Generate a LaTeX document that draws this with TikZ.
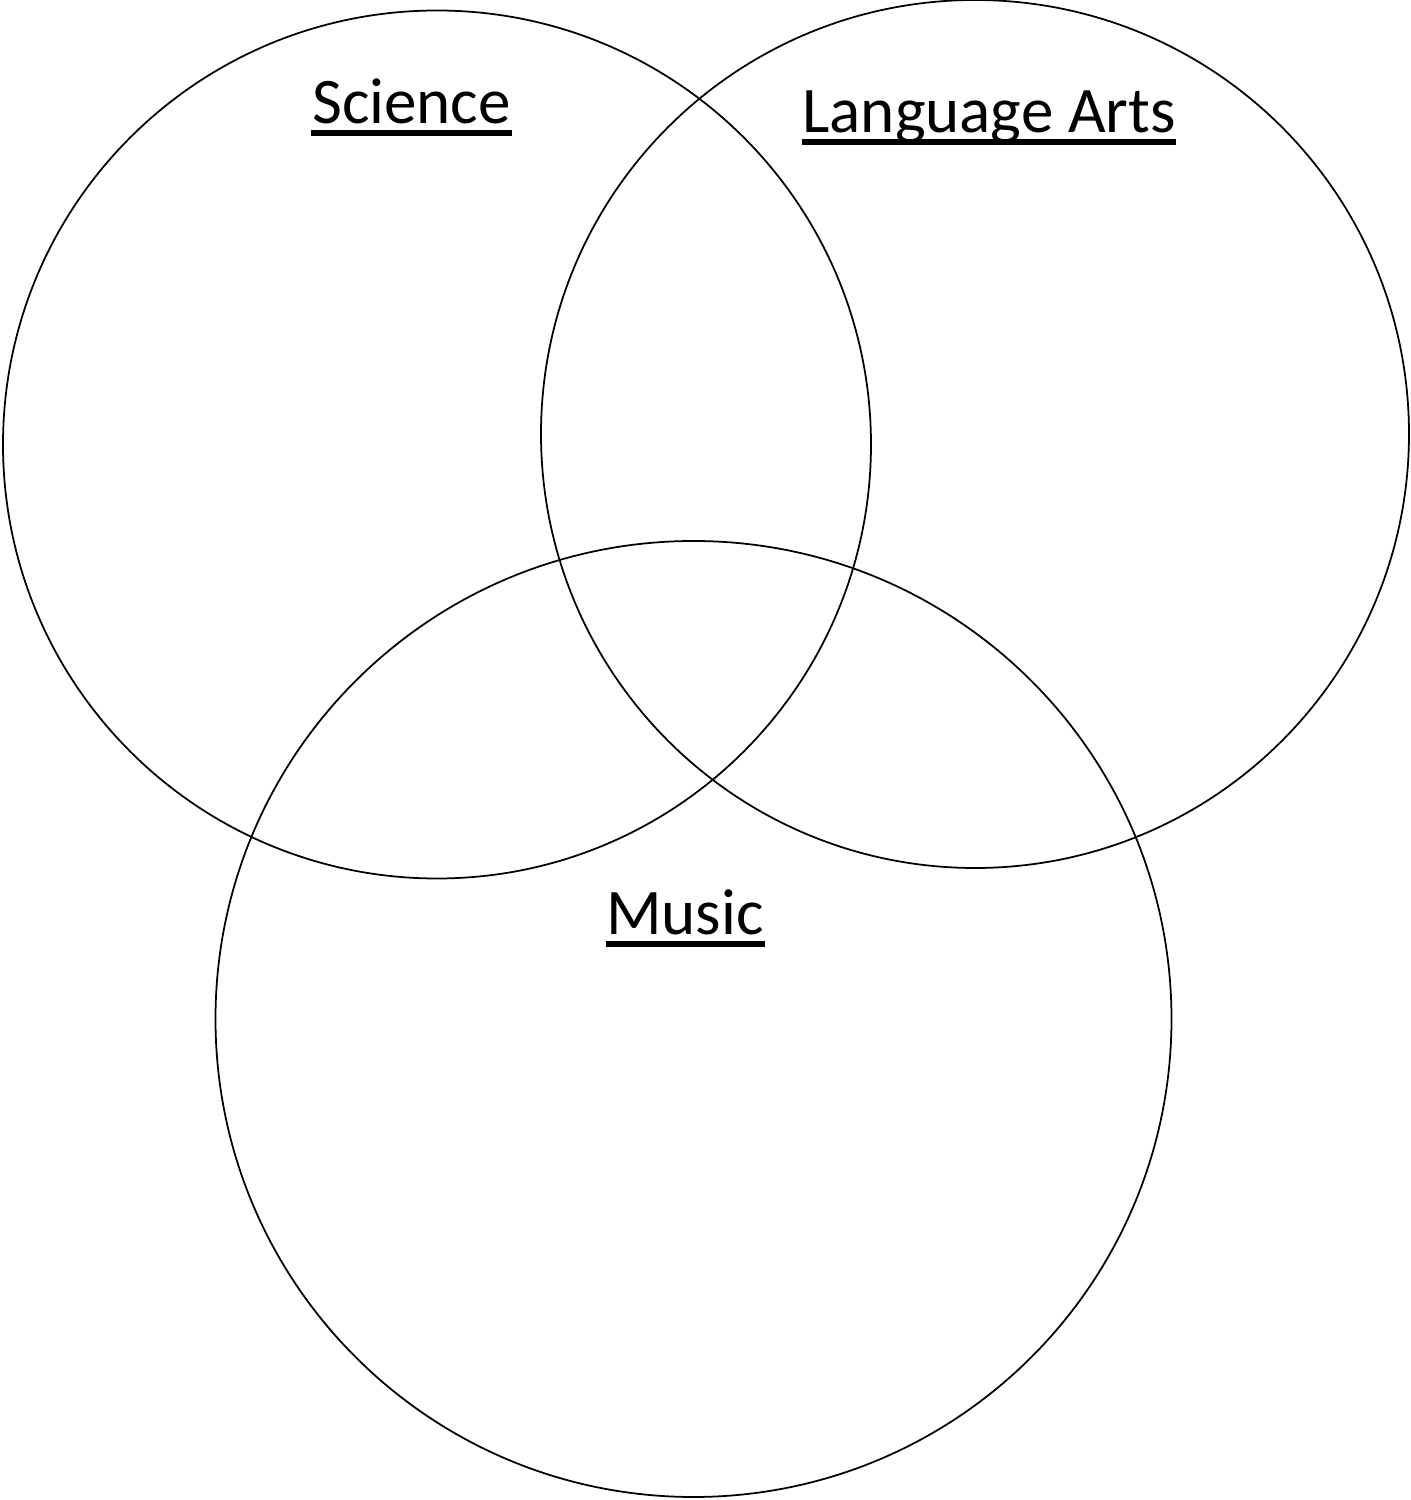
\documentclass[tikz,border=0pt]{standalone}
\usepackage{fontspec}
\setmainfont{Carlito}
\usetikzlibrary{positioning}

\begin{document}
\begin{tikzpicture}[
    % Venn styles
    setcircle/.style={circle, draw=black, line width=0.5pt, inner sep=0pt, minimum size=#1},
    title/.style={inner sep=0pt, anchor=base, font=\fontsize{18.5}{22}\selectfont},
    uline/.style={line width=1.5pt}
]
    \useasboundingbox (0,0) rectangle (14.1,15);

    % ==========================================
    % Circles
    % ==========================================
    \node[setcircle=8.68cm] (science) at (4.37,10.555) {};
    \node[setcircle=8.68cm] (language) at (9.75,10.66) {};
    \node[setcircle=9.56cm] (music) at (6.935,4.81) {};

    % ==========================================
    % Labels
    % ==========================================
    \node[title] (sciTitle) at (4.115,13.76) {Science};
    \node[title] (langTitle) at (9.89,13.67) {Language Arts};
    \node[title] (musTitle) at (6.85,5.65) {Music};

    % Underlines
    \foreach \t in {sciTitle, langTitle, musTitle}
        \draw[uline] ([yshift=-0.09cm]\t.base west) -- ([yshift=-0.09cm]\t.base east);

\end{tikzpicture}
\end{document}
